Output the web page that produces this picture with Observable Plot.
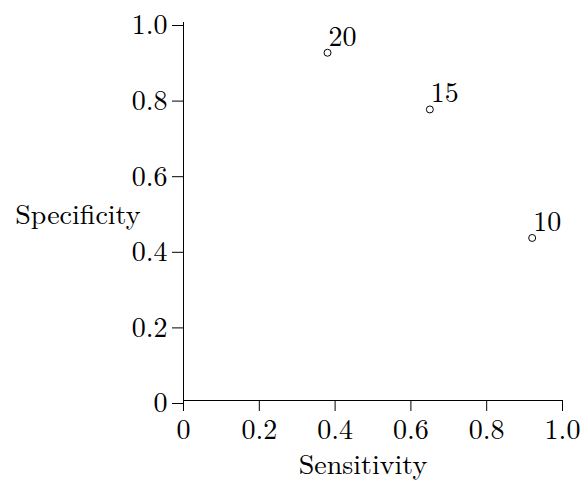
<!DOCTYPE html>
<html><head><meta charset="utf-8">
<script src="https://cdn.jsdelivr.net/npm/d3@7"></script>
<script src="https://cdn.jsdelivr.net/npm/@observablehq/plot@0.6"></script>
<style>
html,body{margin:0;padding:0;background:#fff}
#chart svg text{font-family:'Latin Modern Roman','Liberation Serif',serif;}
</style>
</head><body><div id="chart"></div>
<script>
const sensitivity = [0.38, 0.65, 0.92];
const specificity = [0.92, 0.77, 0.43];
const cutoffs = ["20", "15", "10"];
const tickValues = [0, 0.2, 0.4, 0.6, 0.8, 1.0];
const tickLabels = ["0", "0.2", "0.4", "0.6", "0.8", "1.0"];
const xTitle = "Sensitivity";
const yTitle = "Specificity";

const data = sensitivity.map((s, i) => ({sensitivity: s, specificity: specificity[i], cutoff: cutoffs[i]}));
const fmt = d => tickLabels[tickValues.findIndex(t => Math.abs(t - d) < 1e-9)];
const font = "Latin Modern Roman";
const fs = 28;
const chart = Plot.plot({
  width: 582, height: 480,
  marginLeft: 183, marginRight: 20, marginTop: 22, marginBottom: 80,
  style: {fontFamily: font, fontSize: fs + "px", color: "#000", background: "#fff"},
  x: {domain: [0, 1]},
  y: {domain: [0, 1]},
  marks: [
    Plot.axisX({ticks: tickValues, tickFormat: fmt, tickSize: 11, tickPadding: 8, label: null, fontSize: fs, fontFamily: font}),
    Plot.axisY({ticks: tickValues, tickFormat: fmt, tickSize: 11, tickPadding: 5, dy: 3, label: null, fontSize: fs, fontFamily: font}),
    Plot.frame({anchor: "bottom"}),
    Plot.frame({anchor: "left"}),
    Plot.dot(data, {x: "sensitivity", y: "specificity", r: 3.5, stroke: "#000", fill: "#fff", strokeWidth: 1}),
    Plot.text(data, {x: "sensitivity", y: "specificity", text: "cutoff", textAnchor: "start", lineAnchor: "bottom", dx: 1, dy: -7, fontSize: fs, fontFamily: font}),
    Plot.text([xTitle], {frameAnchor: "bottom", text: d => d, lineAnchor: "bottom", dy: 73, dx: -10, fontSize: fs, fontFamily: font}),
    Plot.text([yTitle], {frameAnchor: "left", text: d => d, textAnchor: "end", lineAnchor: "middle", dx: -43, dy: 4, fontSize: fs, fontFamily: font})
  ]
});
document.getElementById("chart").appendChild(chart);
</script>
</body></html>
